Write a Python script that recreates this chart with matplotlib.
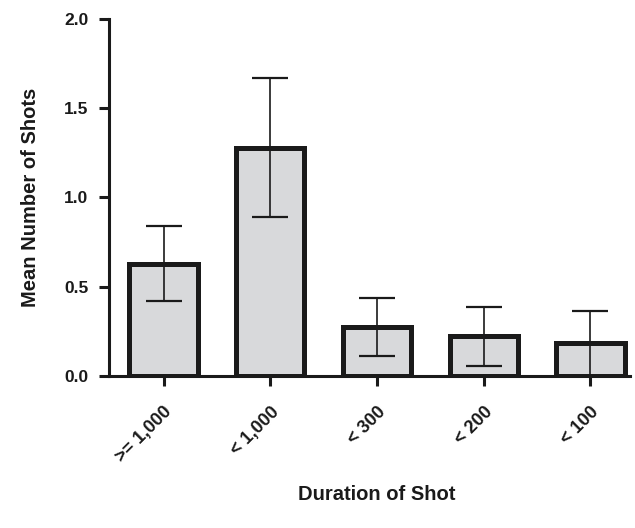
import matplotlib.pyplot as plt
import numpy as np

# data
categories = [">= 1,000", "< 1,000", "< 300", "< 200", "< 100"]
means = [0.63, 1.28, 0.273, 0.222, 0.183]
errors = [0.21, 0.39, 0.164, 0.167, 0.183]

plt.rcParams['font.family'] = ['Liberation Sans', 'DejaVu Sans']
plt.rcParams['font.weight'] = 'bold'

fig = plt.figure(figsize=(6.35, 5.28), dpi=100)
ax = fig.add_axes([0.172, 0.288, 0.82, 0.676])

x = np.arange(len(categories))
ax.bar(x, means, width=0.64, color='#d8d9db', edgecolor='#1a1a1a', linewidth=3.6, zorder=2)
ax.errorbar(x, means, yerr=errors, fmt='none', ecolor='#1a1a1a', elinewidth=1.2,
            capsize=13, capthick=1.6, zorder=3)

ax.set_xlim(-0.51, 4.37)
ax.set_ylim(0, 2.0)
ax.set_yticks([0.0, 0.5, 1.0, 1.5, 2.0])
ax.set_yticklabels(["0.0", "0.5", "1.0", "1.5", "2.0"], fontsize=12.5, fontweight='bold')
ax.set_xticks(x)
ax.set_xticklabels(categories, rotation=45, ha='right', rotation_mode='anchor',
                   fontsize=13, fontweight='bold')

for side in ['top', 'right']:
    ax.spines[side].set_visible(False)
for side in ['left', 'bottom']:
    ax.spines[side].set_linewidth(2.2)
    ax.spines[side].set_color('#1a1a1a')
ax.tick_params(axis='both', direction='out', length=7, width=2.2, color='#1a1a1a', labelcolor='#1a1a1a')
ax.tick_params(axis='x', pad=13)
ax.tick_params(axis='y', pad=8)

ax.set_ylabel("Mean Number of Shots", fontsize=14.5, fontweight='bold', color='#1a1a1a')
ax.set_xlabel("Duration of Shot", fontsize=14.5, fontweight='bold', color='#1a1a1a')
ax.yaxis.set_label_coords(-0.132, 0.5)
ax.xaxis.set_label_coords(0.513, -0.305)

fig.savefig("out.png", dpi=100)
